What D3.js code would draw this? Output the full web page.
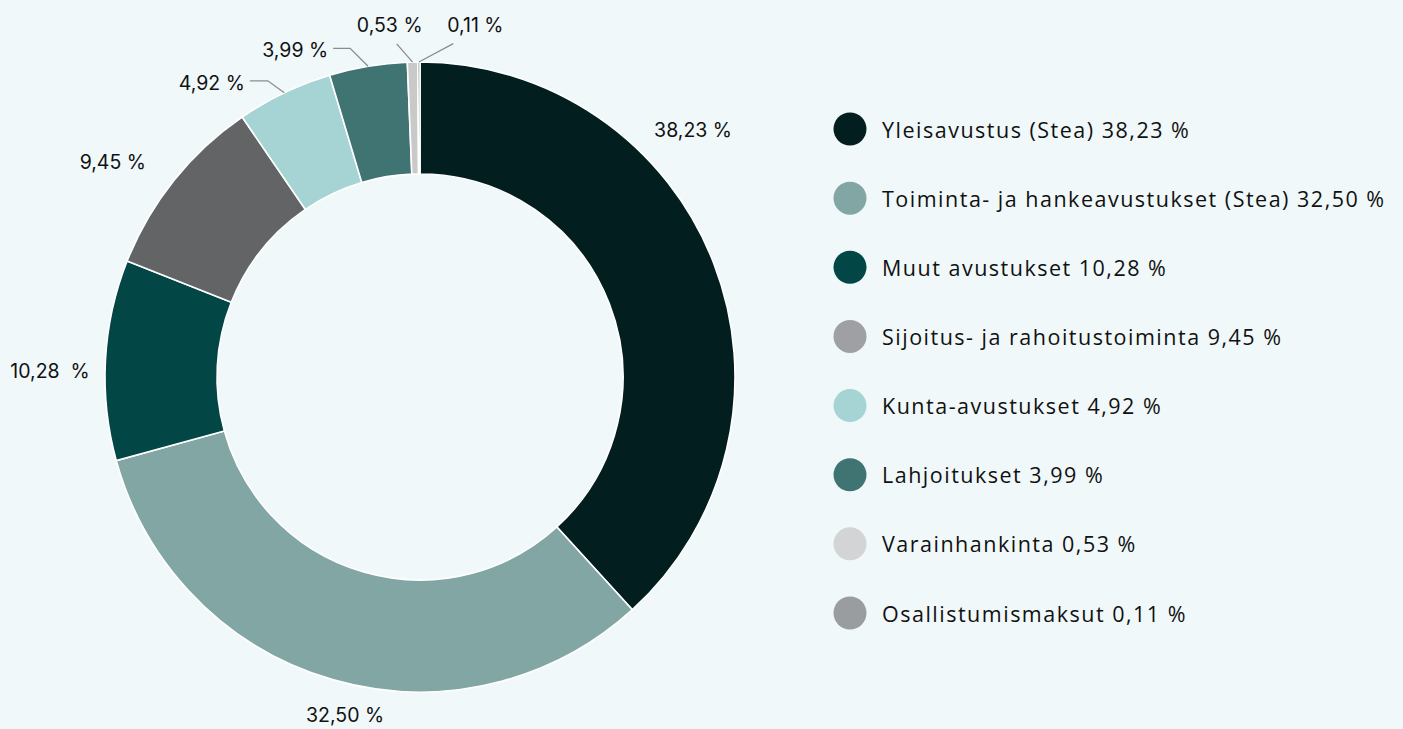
<!DOCTYPE html>
<html>
  <head>
    <script src="https://d3js.org/d3.v7.min.js"></script>
    <style>
      body {margin: 0; background: #f0f8fa;}
      #legend text {font-family: "Open Sans", sans-serif; font-size: 21.5px; letter-spacing: 1.5px; fill: #111;}
      #labels text {font-family: Inter, sans-serif; font-size: 19.5px; fill: #111; white-space: pre;}
      #labels path {fill: none; stroke: #8c8c8c; stroke-width: 1.3;}
    </style>
  </head>
  <body>
    <svg id="chart" width="1403" height="729">
      <g id="donut"/>
      <g id="labels"/>
      <g id="legend"/>
    </svg>
  </body>
  <script>
      // data
      let categories = ["Yleisavustus (Stea)", "Toiminta- ja hankeavustukset (Stea)", "Muut avustukset",
                        "Sijoitus- ja rahoitustoiminta", "Kunta-avustukset", "Lahjoitukset",
                        "Varainhankinta", "Osallistumismaksut"];
      let shares = [38.23, 32.50, 10.28, 9.45, 4.92, 3.99, 0.53, 0.11];
      let sliceLabels = ["38,23 %", "32,50 %", "10,28  %", "9,45 %", "4,92 %", "3,99 %", "0,53 %", "0,11 %"];
      let legendLabels = ["38,23 %", "32,50 %", "10,28 %", "9,45 %", "4,92 %", "3,99 %", "0,53 %", "0,11 %"];

      let sliceColors = ["#021e1f", "#82a6a3", "#024646", "#636466", "#a6d4d4", "#3f7473", "#c9c9ca", "#6e6f71"];
      let legendColors = ["#021e1f", "#82a6a3", "#024646", "#9fa0a3", "#a6d4d4", "#3f7473", "#d3d4d5", "#9a9da0"];

      let cx = 420, cy = 377, outerR = 315, innerR = 203;

      // label placement (polar, degrees clockwise from top); mode: plain text, or leader line
      let labelLayout = [
          {a: 47.9, r: 368, mode: "text"},
          {a: 192.5, r: 346, mode: "text"},
          {a: 271, r: 370, mode: "text"},
          {a: 305, r: 375, mode: "text"},
          {a: 332.8, r: 333, mode: "left", tail: 18},
          {a: 348, r: 336, mode: "left", tail: 17},
          {a: 356, r: 334, mode: "up", dx: -7},
          {a: 5.7, r: 335, mode: "upstart", dx: -6}
      ];

      let data = categories.map((c, i) => ({name: c, value: shares[i], label: sliceLabels[i],
                                            legend: c + " " + legendLabels[i]}));

      function polar(deg, r) {
          let t = deg * Math.PI / 180;
          return [cx + r * Math.sin(t), cy - r * Math.cos(t)];
      }

      function drawDonut(data) {
          let arcs = d3.pie().value(d => d.value).sort(null)(data);
          let arcGen = d3.arc().innerRadius(innerR).outerRadius(outerR);

          d3.select("#donut").attr("transform", `translate(${cx},${cy})`)
              .selectAll("path").data(arcs).enter().append("path")
              .attr("d", arcGen)
              .attr("fill", (d, i) => sliceColors[i])
              .attr("stroke", "#ffffff").attr("stroke-width", 1.6);

          let g = d3.select("#labels");
          arcs.forEach((d, i) => {
              let lay = labelLayout[i];
              let p = polar(lay.a, lay.r);
              if (lay.mode === "text") {
                  g.append("text").attr("x", p[0]).attr("y", p[1])
                      .attr("text-anchor", "middle").attr("dominant-baseline", "central")
                      .text(d.data.label);
                  return;
              }
              let mid = (d.startAngle + d.endAngle) / 2 * 180 / Math.PI;
              let e = polar(mid, outerR);
              let pts = [e, p];
              if (lay.mode === "left") {
                  let t = [p[0] - lay.tail, p[1]];
                  pts.push(t);
                  g.append("text").attr("x", t[0] - 5).attr("y", t[1] + 2)
                      .attr("text-anchor", "end").attr("dominant-baseline", "central")
                      .text(d.data.label);
              } else {
                  g.append("text").attr("x", p[0] + lay.dx).attr("y", p[1] - 19)
                      .attr("text-anchor", lay.mode === "up" ? "middle" : "start")
                      .attr("dominant-baseline", "central")
                      .text(d.data.label);
              }
              g.append("path").attr("d", d3.line()(pts));
          });
      }

      function drawLegend(data) {
          let y = d3.scalePoint().domain(data.map(d => d.name)).range([129, 613]);
          let items = d3.select("#legend").selectAll("g").data(data).enter().append("g")
              .attr("transform", d => `translate(850,${y(d.name)})`);
          items.append("circle").attr("r", 16.5).attr("fill", (d, i) => legendColors[i]);
          items.append("text").attr("x", 32).attr("dominant-baseline", "central").text(d => d.legend);
      }

      drawDonut(data);
      drawLegend(data);
  </script>
</html>
